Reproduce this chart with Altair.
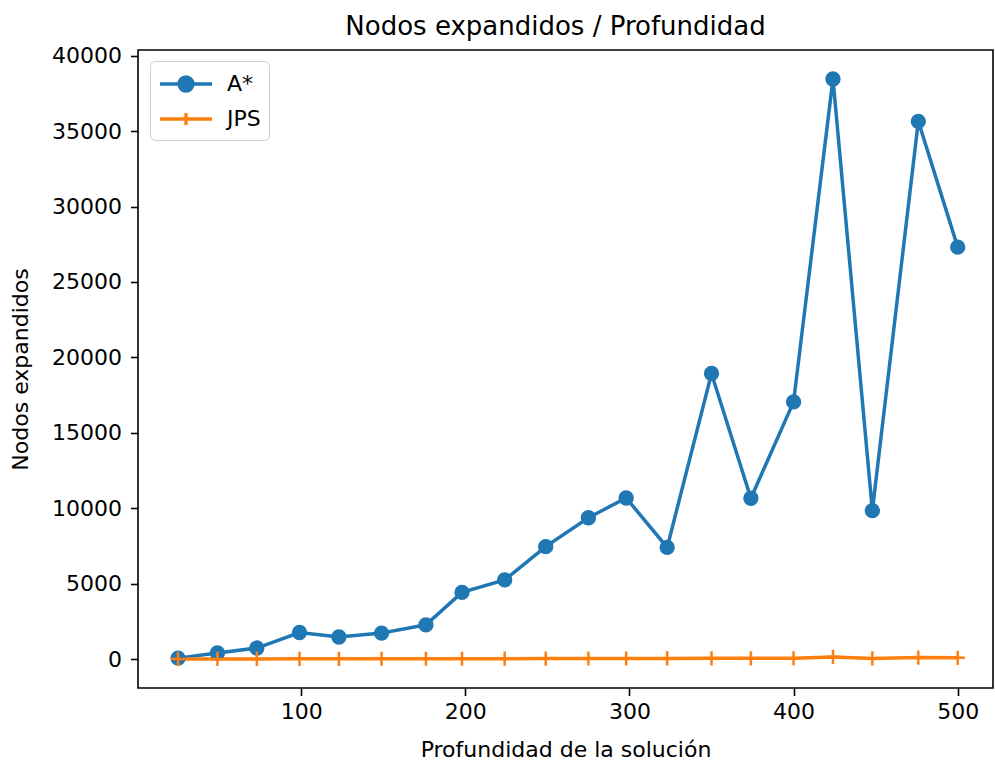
import altair as alt
import pandas as pd

# Solution depth of each test case
depth = [25, 49, 73, 99, 123, 149, 176, 198, 224, 249,
         275, 298, 323, 350, 374, 400, 424, 448, 476, 500]

# Expanded nodes per algorithm
astar = [60, 400, 730, 1760, 1460, 1720, 2270, 4420, 5250, 7450,
         9370, 10680, 7400, 18930, 10660, 17050, 38460, 9840, 35650, 27310]
jps = [5, 8, 10, 14, 15, 17, 20, 22, 25, 30,
       34, 38, 40, 45, 48, 55, 140, 40, 95, 80]

series_names = ["A*", "JPS"]
series_colors = ["#1f77b4", "#ff7f0e"]

rows = []
for name, values in zip(series_names, [astar, jps]):
    for d, v in zip(depth, values):
        rows.append({"depth": d, "value": v, "series": name})
df = pd.DataFrame(rows)

FONT = "DejaVu Sans"

x = alt.X(
    "depth:Q",
    scale=alt.Scale(domain=[0.6, 521.5], nice=False, zero=False),
    axis=alt.Axis(values=[100, 200, 300, 400, 500], title="Profundidad de la solución",
                  titlePadding=17),
)
y = alt.Y(
    "value:Q",
    scale=alt.Scale(domain=[-1920, 40380], nice=False, zero=False),
    axis=alt.Axis(values=list(range(0, 40001, 5000)), title="Nodos expandidos",
                  titlePadding=19, format="d", labelPadding=9),
)
color_scale = alt.Scale(domain=series_names, range=series_colors)

base = alt.Chart(df)
astar_data = base.transform_filter(alt.datum.series == series_names[0])
jps_data = base.transform_filter(alt.datum.series == series_names[1])

line_astar = astar_data.mark_line(strokeWidth=3.5, color=series_colors[0]).encode(x=x, y=y)
line_jps = jps_data.mark_line(strokeWidth=3.5, color=series_colors[1]).encode(x=x, y=y)

points_astar = astar_data.mark_circle(size=235, opacity=1, color=series_colors[0]).encode(x=x, y=y)
points_jps = jps_data.mark_point(
    shape="M-1,0L1,0M0,-1L0,1", size=200, strokeWidth=2.5, opacity=1, filled=False,
    color=series_colors[1],
).encode(x=x, y=y)

# Legend glyphs: a line segment with the series marker in the middle.
# The glyph is wider than the symbol cell, so it is shifted right of centre.
legend_paths = [
    "M-1,0L3,0M0.46,0A0.54,0.54,0,1,0,1.54,0A0.54,0.54,0,1,0,0.46,0Z",
    "M-1,0L3,0M1,-0.46L1,0.46",
]
legend = alt.Legend(
    title=None, orient="none", legendX=12, legendY=11,
    strokeColor="#cccccc", cornerRadius=5, fillColor="white", padding=8,
    labelFont=FONT, labelFontSize=22, labelColor="black",
    symbolSize=676, symbolStrokeWidth=3.3, labelOffset=39, rowPadding=6,
)
# This layer draws nothing itself; it only carries the legend
legend_layer = base.transform_filter("false").mark_point(
    filled=True, size=676, strokeWidth=3.3, opacity=1
).encode(
    x=x, y=y,
    fill=alt.Fill("series:N", scale=color_scale, legend=legend),
    stroke=alt.Stroke("series:N", scale=color_scale, legend=legend),
    shape=alt.Shape("series:N", scale=alt.Scale(domain=series_names, range=legend_paths),
                    legend=legend),
)

chart = alt.layer(line_astar, line_jps, points_astar, points_jps, legend_layer).properties(
    width=855,
    height=638,
    background="white",
    autosize=alt.AutoSizeParams(type="none"),
    padding={"left": 138, "top": 50, "right": 2, "bottom": 77},
    title=alt.TitleParams(
        "Nodos expandidos / Profundidad", font=FONT, fontSize=26, fontWeight="normal",
        color="black", anchor="middle", frame="group", offset=5, dx=-10,
    ),
).configure_view(
    stroke="black", strokeWidth=1.6
).configure_axis(
    grid=False, domain=False, ticks=True, tickColor="black", tickWidth=1.6, tickSize=7.5,
    labelFont=FONT, labelFontSize=22, labelColor="black", labelPadding=6,
    titleFont=FONT, titleFontSize=22, titleFontWeight="normal", titleColor="black",
)

chart.save("out.html", embed_options={"renderer": "svg", "actions": False})
